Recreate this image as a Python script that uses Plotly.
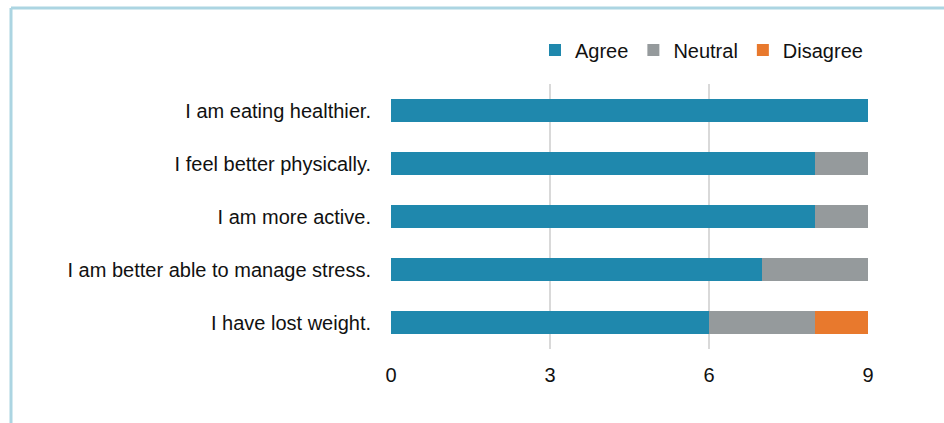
import plotly.graph_objects as go

categories = ["I am eating healthier.", "I feel better physically.", "I am more active.",
              "I am better able to manage stress.", "I have lost weight."]
agree = [9, 8, 8, 7, 6]
neutral = [0, 1, 1, 2, 2]
disagree = [0, 0, 0, 0, 1]
tick_vals = [0, 3, 6, 9]

W, H = 944, 423
ML, MR, MT, MB = 391, 76, 84, 74
pw, ph = W - ML - MR, H - MT - MB

fig = go.Figure()
for name, vals, col in [("Agree", agree, "#1f88ad"), ("Neutral", neutral, "#959a9c"),
                        ("Disagree", disagree, "#e8792d")]:
    fig.add_trace(go.Bar(y=categories, x=vals, name=name, orientation="h",
                         marker=dict(color=col, line=dict(width=0))))

def px_x(p):
    return (p - ML) / pw

def px_y(p):
    return (H - MB - p) / ph

fig.add_shape(type="line", xref="paper", yref="paper", x0=px_x(11), x1=px_x(960),
              y0=px_y(8), y1=px_y(8), line=dict(color="#acd5e2", width=3), layer="above")
fig.add_shape(type="line", xref="paper", yref="paper", x0=px_x(11), x1=px_x(11),
              y0=px_y(8), y1=px_y(440), line=dict(color="#acd5e2", width=3), layer="above")

fig.update_layout(
    width=W, height=H, barmode="stack", bargap=0.56,
    margin=dict(l=ML, r=MR, t=MT, b=MB),
    paper_bgcolor="white", plot_bgcolor="white",
    font=dict(family="Liberation Sans, Arial", size=20, color="#111111"),
    legend=dict(orientation="h", x=1.0, xanchor="right", y=px_y(50), yanchor="middle",
                traceorder="normal", font=dict(size=20), itemwidth=30),
    xaxis=dict(range=[0, 9], tickvals=tick_vals, showgrid=True, gridcolor="#d9d9d9",
               gridwidth=1.5, zeroline=False, showline=False, ticklabelstandoff=12,
               tickfont=dict(size=20, color="#111111")),
    yaxis=dict(autorange="reversed", showgrid=False, zeroline=False, showline=False,
               ticklabelstandoff=19, tickfont=dict(size=20, color="#111111")),
    showlegend=True,
)

fig.write_html("out.html")
